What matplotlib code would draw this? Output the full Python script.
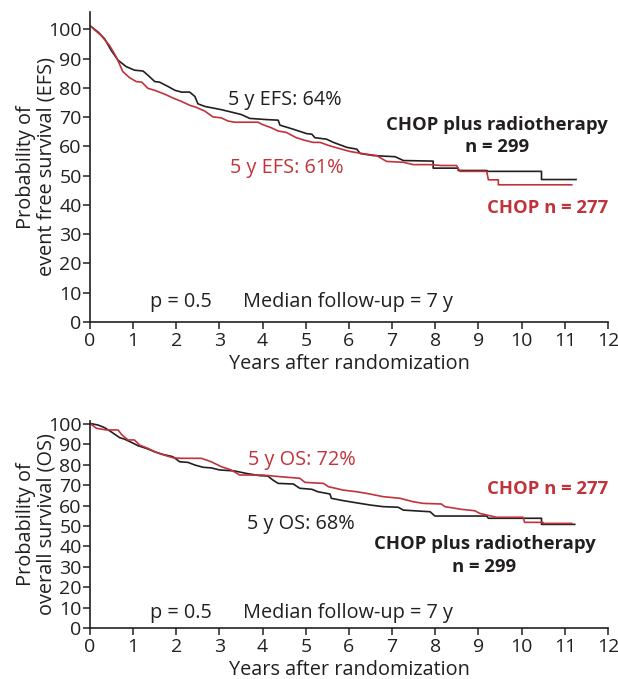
import numpy as np
import matplotlib.pyplot as plt

plt.rcParams['font.family'] = ['Open Sans', 'DejaVu Sans']

BLACK = '#231f20'
RED = '#c1333a'
FS = 14.3
FS_BOLD = 13.3

# Event free survival, CHOP plus radiotherapy (n = 299)
efs_rt_t = [0, 0.19, 0.34, 0.49, 0.65, 0.84, 1.03, 1.23, 1.34, 1.50, 1.61, 1.81, 1.97, 2.12,
            2.31, 2.43, 2.50, 2.66, 3.04, 3.35, 3.51, 3.70, 4.09, 4.36, 4.40, 4.71, 5.02, 5.14,
            5.21, 5.48, 5.64, 5.95, 6.18, 6.26, 6.56, 7.07, 7.26, 7.95, 7.95, 8.53, 8.53, 9.19,
            9.19, 10.46, 10.46, 11.26]
efs_rt_s = [101.3, 99.1, 96.8, 92.9, 89.5, 87.3, 86.1, 85.8, 84.4, 82.2, 82.0, 80.5, 79.2, 78.6,
            78.6, 77.1, 74.6, 73.7, 72.6, 71.5, 70.9, 69.6, 69.2, 69.0, 67.3, 65.9, 64.4, 64.2,
            63.0, 62.5, 61.4, 59.7, 59.1, 57.6, 56.9, 56.5, 55.2, 55.0, 52.6, 52.6, 51.8, 51.8,
            51.5, 51.5, 48.7, 48.7]

# Event free survival, CHOP (n = 277)
efs_chop_t = [0, 0.26, 0.45, 0.61, 0.76, 0.92, 1.07, 1.20, 1.34, 1.50, 1.73, 1.92, 2.12, 2.31,
              2.46, 2.66, 2.85, 3.04, 3.20, 3.35, 3.89, 4.00, 4.09, 4.20, 4.36, 4.55, 4.78, 4.98,
              5.17, 5.33, 5.56, 6.02, 6.26, 6.64, 6.87, 7.26, 7.49, 7.88, 8.14, 8.49, 8.57, 9.19,
              9.23, 9.46, 9.46, 11.16]
efs_chop_s = [101.3, 97.9, 94.6, 90.6, 85.6, 83.5, 82.2, 82.0, 79.9, 79.2, 77.9, 76.6, 75.4, 74.1,
              73.4, 72.1, 70.1, 69.8, 68.7, 68.3, 68.3, 67.5, 67.0, 66.4, 65.3, 64.8, 63.0, 62.1,
              61.4, 61.4, 60.2, 58.3, 57.7, 56.9, 54.9, 54.6, 53.8, 53.8, 53.5, 53.5, 51.5, 51.5,
              48.6, 48.6, 46.9, 46.9]

# Overall survival, CHOP plus radiotherapy
os_rt_t = [0, 0.19, 0.34, 0.49, 0.69, 0.80, 0.96, 1.11, 1.30, 1.50, 1.69, 1.92, 2.08, 2.27, 2.43,
           2.62, 2.81, 3.00, 3.35, 3.62, 3.93, 4.12, 4.24, 4.36, 4.71, 4.86, 5.14, 5.28, 5.56,
           5.59, 5.80, 6.02, 6.49, 6.79, 7.14, 7.26, 7.88, 7.99, 9.19, 9.23, 10.46, 10.46, 11.23]
os_rt_s = [100.3, 99.5, 98.2, 96.2, 93.3, 92.6, 91.0, 89.4, 88.1, 86.4, 85.1, 84.0, 81.5, 81.2, 79.9,
           78.8, 78.5, 77.5, 77.0, 75.8, 74.7, 74.5, 72.5, 70.9, 70.6, 68.5, 68.0, 66.8, 65.7,
           63.6, 62.7, 61.9, 60.3, 59.5, 59.2, 57.8, 57.0, 54.9, 54.9, 53.8, 53.8, 50.8, 50.8]

# Overall survival, CHOP
os_chop_t = [0, 0.15, 0.38, 0.65, 0.73, 0.88, 1.03, 1.15, 1.34, 1.53, 1.76, 1.92, 2.10, 2.58, 2.81,
             3.04, 3.27, 3.47, 4.00, 4.40, 4.86, 4.98, 5.41, 5.52, 5.87, 6.18, 6.41, 6.79, 7.18,
             7.49, 7.72, 8.14, 8.22, 8.60, 8.91, 9.03, 9.19, 9.42, 10.03, 10.07, 10.49, 10.49, 11.16]
os_chop_s = [100.3, 97.9, 97.1, 97.1, 94.9, 92.2, 92.2, 89.7, 88.1, 86.1, 84.5, 83.5, 83.2, 83.2, 81.5,
             79.1, 77.5, 75.0, 75.0, 74.2, 73.4, 71.4, 70.9, 69.3, 67.6, 66.8, 66.0, 64.4, 63.6,
             61.9, 61.1, 60.8, 59.5, 58.2, 57.5, 56.2, 55.4, 54.3, 54.3, 51.8, 51.8, 51.3, 51.3]

x_ticks = list(range(0, 13))
y_ticks = list(range(0, 101, 10))

fig = plt.figure(figsize=(6.18, 6.79), dpi=100)
ax1 = fig.add_axes([0.1456, 0.5258, 0.8382, 0.4566])
ax2 = fig.add_axes([0.1456, 0.0751, 0.8382, 0.3049])


def style(ax, ylim, ylabel):
    ax.set_xlim(0, 12)
    ax.set_ylim(*ylim)
    ax.set_xticks(x_ticks)
    ax.set_yticks(y_ticks)
    for s in ['top', 'right']:
        ax.spines[s].set_visible(False)
    for s in ['left', 'bottom']:
        ax.spines[s].set_linewidth(1.2)
        ax.spines[s].set_color(BLACK)
    ax.tick_params(axis='both', direction='out', length=5, width=1.1, colors=BLACK,
                   labelsize=14, pad=1)
    ax.tick_params(axis='x', pad=2)
    ax.set_xlabel('Years after randomization', fontsize=FS, color=BLACK, labelpad=3)
    ax.set_ylabel(ylabel, fontsize=FS, color=BLACK, labelpad=-6, linespacing=1.05)


# top panel: EFS
ax1.plot(efs_rt_t, efs_rt_s, color=BLACK, lw=1.2)
ax1.plot(efs_chop_t, efs_chop_s, color=RED, lw=1.2)
style(ax1, (0, 106), 'Probability of\nevent free survival (EFS)')
ax1.text(3.2, 75.9, '5 y EFS: 64%', fontsize=FS, color=BLACK, va='center')
ax1.text(3.24, 52.6, '5 y EFS: 61%', fontsize=FS, color=RED, va='center')
ax1.text(9.43, 67.4, 'CHOP plus radiotherapy', fontsize=FS_BOLD, fontweight='bold',
         color=BLACK, ha='center', va='center')
ax1.text(9.43, 59.8, 'n = 299', fontsize=FS_BOLD, fontweight='bold', color=BLACK,
         ha='center', va='center')
ax1.text(12.0, 39.0, 'CHOP n = 277', fontsize=FS_BOLD, fontweight='bold', color=RED,
         ha='right', va='center')
ax1.text(1.39, 6.8, 'p = 0.5', fontsize=FS, color=BLACK, va='center')
ax1.text(3.54, 6.8, 'Median follow-up = 7 y', fontsize=FS, color=BLACK, va='center')

# bottom panel: OS
ax2.plot(os_rt_t, os_rt_s, color=BLACK, lw=1.2)
ax2.plot(os_chop_t, os_chop_s, color=RED, lw=1.2)
style(ax2, (0, 101.5), 'Probability of\noverall survival (OS)')
ax2.text(3.66, 82.4, '5 y OS: 72%', fontsize=FS, color=RED, va='center')
ax2.text(3.64, 51.0, '5 y OS: 68%', fontsize=FS, color=BLACK, va='center')
ax2.text(12.0, 68.1, 'CHOP n = 277', fontsize=FS_BOLD, fontweight='bold', color=RED,
         ha='right', va='center')
ax2.text(9.14, 41.2, 'CHOP plus radiotherapy', fontsize=FS_BOLD, fontweight='bold',
         color=BLACK, ha='center', va='center')
ax2.text(9.14, 29.9, 'n = 299', fontsize=FS_BOLD, fontweight='bold', color=BLACK,
         ha='center', va='center')
ax2.text(1.39, 7.4, 'p = 0.5', fontsize=FS, color=BLACK, va='center')
ax2.text(3.54, 7.4, 'Median follow-up = 7 y', fontsize=FS, color=BLACK, va='center')

fig.savefig('out.png', dpi=100)
